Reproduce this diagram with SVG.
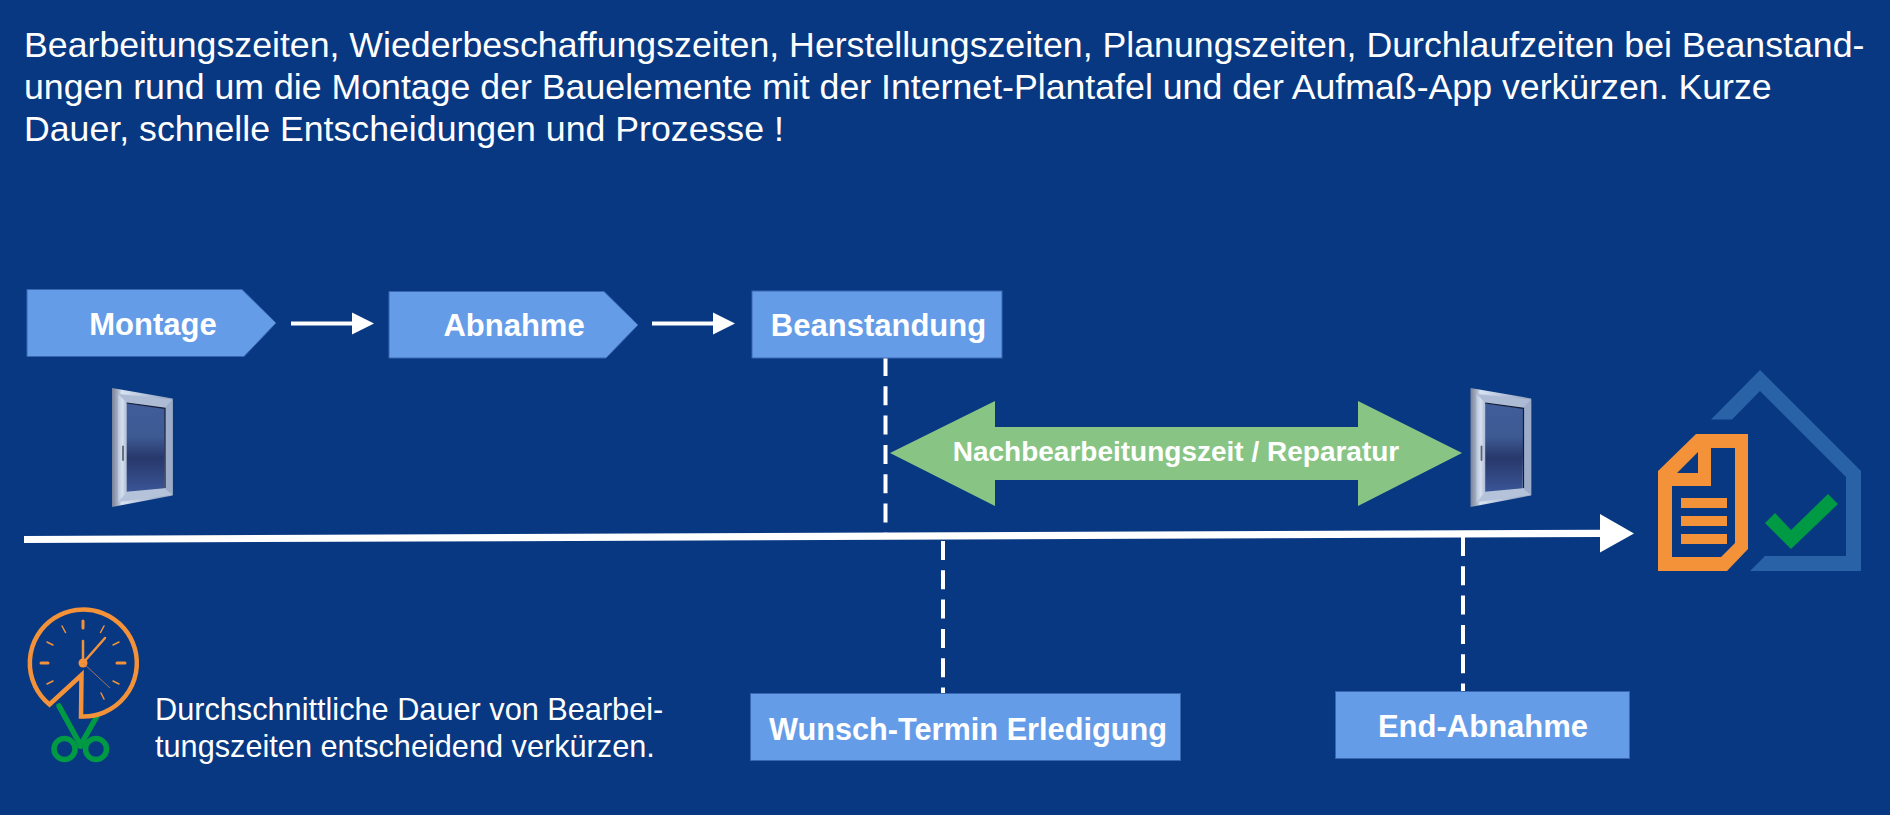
<svg xmlns="http://www.w3.org/2000/svg" width="1890" height="815" viewBox="0 0 1890 815">
<style>
text{font-family:"Liberation Sans",Arial,sans-serif;fill:#fff}
.head{font-size:35.7px}
.body{font-size:30.7px}
.b{font-weight:bold;font-size:31px;text-anchor:middle}
.box{fill:#659ce8;stroke:#3a66b0;stroke-width:1}
.dash{stroke:#fff;stroke-width:4;stroke-dasharray:19 10.3;fill:none}
.or{stroke:#f39239;fill:none;stroke-linecap:round}
</style>
<defs>
<linearGradient id="glass" x1="0" y1="0" x2="0" y2="1"><stop offset="0" stop-color="#405d9a"/><stop offset=".38" stop-color="#3e5a93"/><stop offset=".62" stop-color="#27386b"/><stop offset="1" stop-color="#3a5596"/></linearGradient>
<linearGradient id="frame" x1="0" y1="0" x2="1" y2="0"><stop offset="0" stop-color="#77829a"/><stop offset=".1" stop-color="#a8b3c6"/><stop offset=".16" stop-color="#d8e2f2"/><stop offset="1" stop-color="#8f9fbd"/></linearGradient>
<linearGradient id="bar" x1="0" y1="0" x2="1" y2="0"><stop offset="0" stop-color="#b9c6dc"/><stop offset=".5" stop-color="#d6dfef"/><stop offset="1" stop-color="#aebcd5"/></linearGradient>
<g id="window">
<polygon points="112,388 172.700,398.500 172.700,495.500 112,507" fill="url(#frame)"/>
<polygon points="118,394 172.700,399.500 165,408 126.700,403" fill="#adbbd4"/>
<polygon points="172.700,399.500 172.700,495 164,488 165,408" fill="#9dadc9"/>
<polygon points="118,502 172.700,495 164,488 126.700,491.700" fill="#b4c2da"/>
<polygon points="118,394 126.700,403 126.700,491.700 118,502" fill="url(#bar)"/>
<polygon points="126.700,403 165,408.300 164,488.300 126.700,491.700" fill="url(#glass)"/>
<path d="M126.700,403L165,408.300V488" fill="none" stroke="#141c36" stroke-width="1.200"/>
<path d="M123,446.500V460" stroke="#5c6372" stroke-width="1.800" stroke-linecap="round"/>
</g>
</defs>
<rect width="1890" height="815" fill="#083882"/>
<g id="heading">
<text class="head" x="24" y="56.500">Bearbeitungszeiten, Wiederbeschaffungszeiten, Herstellungszeiten, Planungszeiten, Durchlaufzeiten bei Beanstand-</text>
<text class="head" x="24" y="98.500">ungen rund um die Montage der Bauelemente mit der Internet-Plantafel und der Aufmaß-App verkürzen. Kurze</text>
<text class="head" x="24" y="140.500">Dauer, schnelle Entscheidungen und Prozesse !</text>
</g>
<g id="connectors">
<g stroke="#fff" fill="#fff">
<path d="M291,323.500H354" stroke-width="4"/><polygon points="352,312.500 374,323.500 352,334.500" stroke="none"/>
<path d="M652,323.500H715" stroke-width="4"/><polygon points="713,312.500 735,323.500 713,334.500" stroke="none"/>
</g>
<path class="dash" d="M885.500,357V535"/>
<path class="dash" d="M943,541V693"/>
<path class="dash" d="M1463,537V691"/>
<polygon points="24,536 1601,529.700 1601,537 24,543" fill="#fff"/>
<polygon points="1600,514 1634,533.500 1600,552.500" fill="#fff"/>
</g>
<g id="montage"><polygon class="box" points="27,289.500 242,289.500 276,323 244,356.500 27,356.500"/><text class="b" x="153" y="335">Montage</text></g>
<g id="abnahme"><polygon class="box" points="389,291.500 604,291.500 638,325 606,358 389,358"/><text class="b" x="514" y="336">Abnahme</text></g>
<g id="beanstandung"><rect class="box" x="752" y="291" width="250" height="67"/><text class="b" x="878.500" y="336">Beanstandung</text></g>
<g id="wunsch"><rect class="box" x="750.500" y="693.500" width="430" height="67"/><text class="b" x="968" y="740" style="font-size:30.7px">Wunsch-Termin Erledigung</text></g>
<g id="endabnahme"><rect class="box" x="1335.500" y="691.500" width="294" height="67"/><text class="b" x="1483" y="737">End-Abnahme</text></g>
<g id="nachbearbeitung"><polygon points="890,453 995,401 995,427 1358,427 1358,401 1462,453 1358,506 1358,480 995,480 995,506" fill="#88c585"/><text x="1176" y="461" font-weight="bold" font-size="28" text-anchor="middle">Nachbearbeitungszeit / Reparatur</text></g>
<g id="window-1"><use href="#window"/></g>
<g id="window-2"><use href="#window" x="1358.500"/></g>
<g id="house-check">
<polygon points="1711,419.500 1760,370 1861,471 1861,571 1750,571 1765,556 1846,556 1846,477 1760,391 1732,419.500" fill="#2a62a8"/>
<path fill="#f39239" fill-rule="evenodd" d="M1658,471L1696,434H1748V549L1727,571H1658ZM1711,448V486H1672V557H1721L1735,543V448ZM1698,452L1677,473H1698Z"/>
<path fill="#f39239" d="M1681,498H1727V508H1681ZM1681,516H1727V526H1681ZM1681,534H1727V544H1681Z"/>
<polygon points="1765,523 1775,513 1791,530 1828,494 1838,504 1791,549" fill="#009944"/>
</g>
<g id="clock-scissors">
<g fill="none" stroke="#009944" stroke-width="5.500"><path d="M59,706L81,746M96.500,717L80,746" stroke-linecap="round"/><circle cx="64.500" cy="749" r="10.500"/><circle cx="96" cy="749" r="10.500"/></g>
<path d="M49.500,704.500A53.500,53.500 0 1 1 81,716.500L81.500,675Z" fill="none" stroke="#f39239" stroke-width="4.500"/>
<g class="or"><path stroke-width="3" d="M83,621V628M41,663H48M117,663H125"/><path stroke-width="1.500" d="M62,626L65.500,632.500M104,626L100.500,632.500M47,642L53,645M119,642L113,645M47,684L53,681M119,684L113,681M101,693L104,699"/>
<path stroke-width="2.500" d="M83,663V641M83,663L105,638"/></g>
<circle cx="83" cy="663" r="4.500" fill="#f39239"/>
<path d="M83,663L110,688" stroke="#c4835a" stroke-width=".8"/>
</g>
<g id="caption">
<text class="body" x="155" y="720">Durchschnittliche Dauer von Bearbei-</text>
<text class="body" x="155" y="756.500">tungszeiten entscheidend verkürzen.</text>
</g>
</svg>
